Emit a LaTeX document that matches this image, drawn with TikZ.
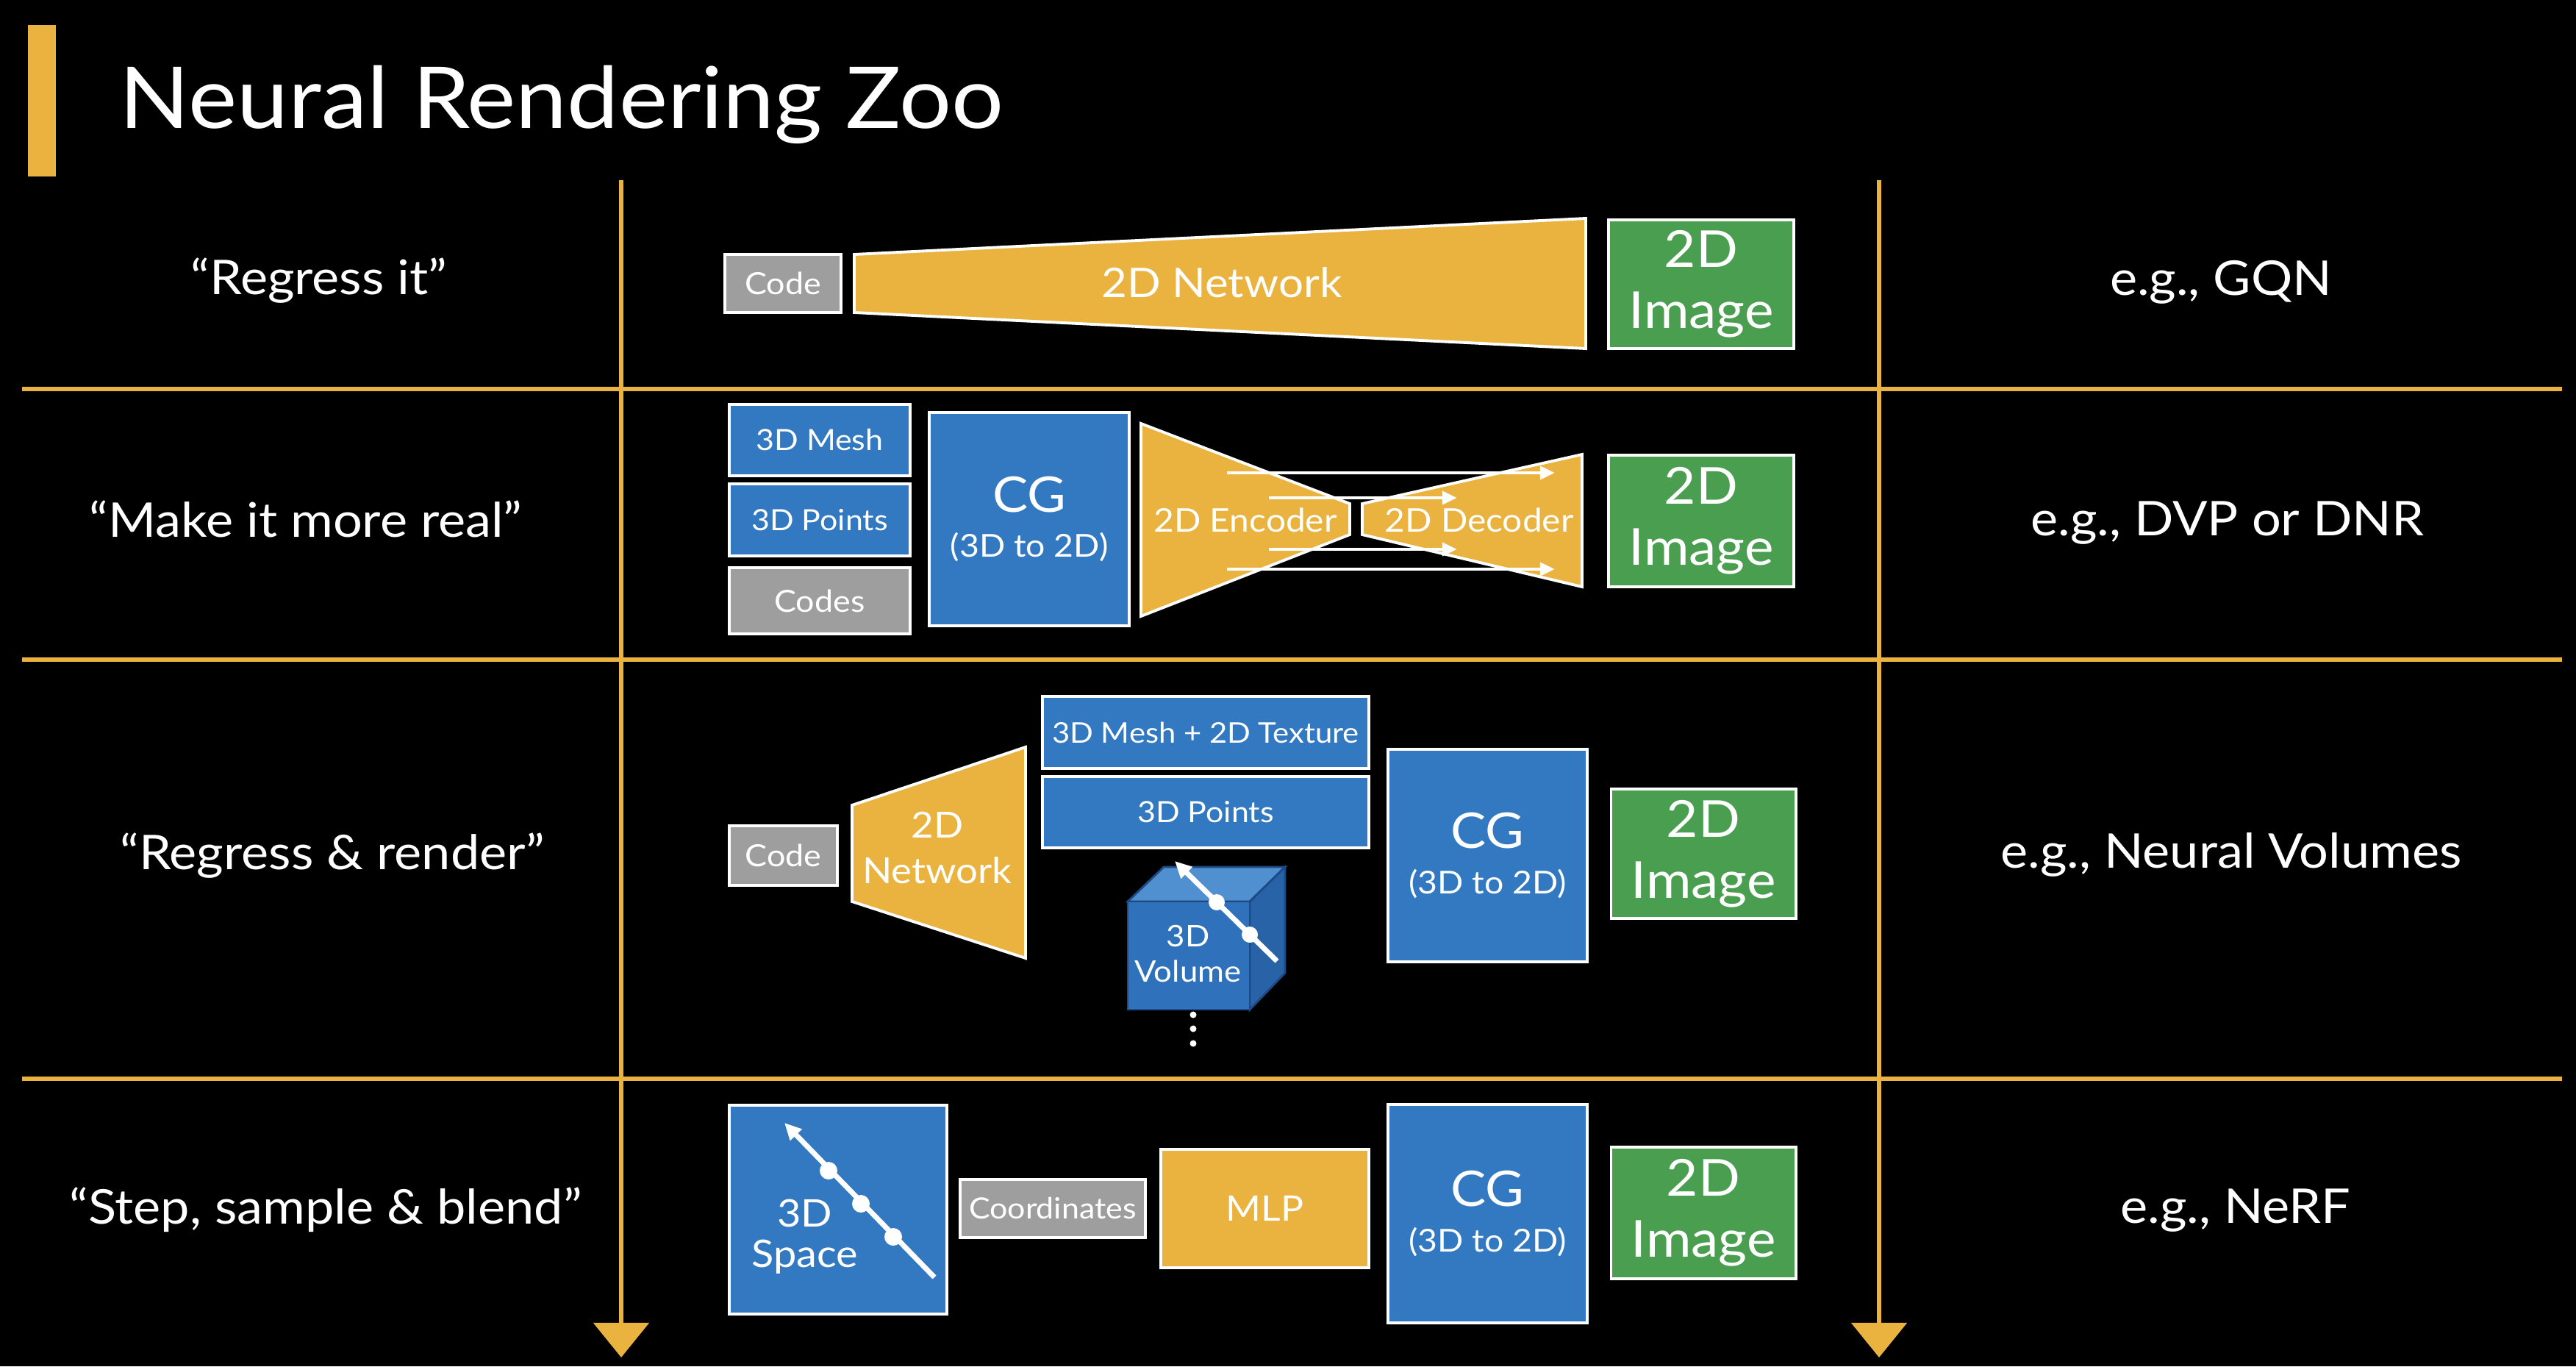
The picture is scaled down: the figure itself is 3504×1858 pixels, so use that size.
\documentclass[tikz,border=0pt]{standalone}
\usepackage{fontspec}
\setmainfont{Lato}[FakeStretch=1.08]
\usetikzlibrary{arrows.meta}
\definecolor{zorange}{HTML}{EAB23E}
\definecolor{zblue}{HTML}{3279C1}
\definecolor{zgreen}{HTML}{4A9E4F}
\definecolor{zgray}{HTML}{9E9E9E}
\definecolor{cubefront}{HTML}{2F72BB}
\definecolor{cubetop}{HTML}{508FD0}
\definecolor{cuberight}{HTML}{2863A7}
\definecolor{cubeline}{HTML}{1D4A85}
\begin{document}
\begin{tikzpicture}[x=0.01cm,y=-0.01cm,
  box/.style={draw=white, line width=1.1pt, text=white, inner sep=0pt, align=center},
  bluebox/.style={box, fill=zblue},
  graybox/.style={box, fill=zgray},
  greenbox/.style={box, fill=zgreen},
  orangebox/.style={box, fill=zorange},
  smalltxt/.style={font=\fontsize{11.3}{14}\selectfont},
  codetxt/.style={font=\fontsize{11.8}{14}\selectfont},
  bigtxt/.style={font=\fontsize{19.7}{23.5}\selectfont},
  cgtxt/.style={font=\fontsize{12.2}{17.4}\selectfont},
  rowlbl/.style={text=white, anchor=base, inner sep=0pt, font=\fontsize{18.5}{22}\selectfont},
  gridline/.style={draw=zorange, line width=1.55pt},
  vline/.style={draw=zorange, line width=1.7pt, -{Triangle[length=13.4pt, width=21.3pt]}},
  skip/.style={draw=white, line width=1.4pt, -{Triangle[length=5.7pt, width=5pt]}},
  ray/.style={draw=white, line width=2pt, -{Triangle[length=6.5pt, width=6pt]}},
  raydot/.style={fill=white, draw=none},
  trap/.style={fill=zorange, draw=white, line width=1.1pt},
]
\fill[black] (0,0) rectangle (3504,1858);
\useasboundingbox (0,0) rectangle (3504,1858);

% title
\fill[zorange] (38,34) rectangle (76,240);
\node[text=white, anchor=base west, inner sep=0pt, font=\fontsize{33}{40}\selectfont] (title) at (162,175) {Neural Rendering Zoo};

% grid
\coordinate (h1a) at (30,529);  \coordinate (h1b) at (3485,529);
\coordinate (h2a) at (30,897);  \coordinate (h2b) at (3485,897);
\coordinate (h3a) at (30,1467); \coordinate (h3b) at (3485,1467);
\draw[gridline] (h1a) -- (h1b);
\draw[gridline] (h2a) -- (h2b);
\draw[gridline] (h3a) -- (h3b);
\coordinate (v1a) at (845,245);  \coordinate (v1b) at (845,1846);
\coordinate (v2a) at (2556,245); \coordinate (v2b) at (2556,1846);
\draw[vline] (v1a) -- (v1b);
\draw[vline] (v2a) -- (v2b);

% row labels
\node[rowlbl] (r1) at (434,400) {“Regress it”};
\node[rowlbl] (r2) at (416,730) {“Make it more real”};
\node[rowlbl] (r3) at (452,1182) {“Regress \& render”};
\node[rowlbl] (r4) at (443,1664) {“Step, sample \& blend”};
\node[rowlbl] (e1) at (3021,402) {e.g., GQN};
\node[rowlbl] (e2) at (3030,728) {e.g., DVP or DNR};
\node[rowlbl] (e3) at (3035,1180) {e.g., Neural Volumes};
\node[rowlbl] (e4) at (3041,1663) {e.g., NeRF};

% ---- row 1
\node[graybox, codetxt, minimum width=1.58cm, minimum height=0.79cm] (code1) at (1065,385.5) {Code};
\draw[trap] (1162,346) -- (2157,297) -- (2157,474) -- (1162,425) -- cycle;
\node[text=white, font=\fontsize{15.8}{18}\selectfont] (net1) at (1662,384) {2D Network};
\node[greenbox, bigtxt, minimum width=2.52cm, minimum height=1.75cm] (img1) at (2314,386.5) {2D\\Image};

% ---- row 2
\node[bluebox, smalltxt, minimum width=2.46cm, minimum height=0.97cm] (mesh2) at (1115,598.5) {3D Mesh};
\node[bluebox, smalltxt, minimum width=2.46cm, minimum height=0.98cm] (pts2) at (1115,707) {3D Points};
\node[graybox, codetxt, minimum width=2.46cm, minimum height=0.90cm] (codes2) at (1115,817) {Codes};
\node[bluebox, cgtxt, minimum width=2.72cm, minimum height=2.90cm] (cg2) at (1400,706)
  {{\fontsize{19}{19}\selectfont CG}\\(3D to 2D)};
\draw[trap] (1552,576) -- (1836,685) -- (1836,727) -- (1552,838) -- cycle;
\draw[trap] (1853,685) -- (2152,618) -- (2152,798) -- (1853,727) -- cycle;
\coordinate (s1a) at (1669,643); \coordinate (s1b) at (2115,643);
\coordinate (s2a) at (1726,677); \coordinate (s2b) at (1982,677);
\coordinate (s3a) at (1726,747); \coordinate (s3b) at (1982,747);
\coordinate (s4a) at (1669,774); \coordinate (s4b) at (2115,774);
\draw[skip] (s1a) -- (s1b);
\draw[skip] (s2a) -- (s2b);
\draw[skip] (s3a) -- (s3b);
\draw[skip] (s4a) -- (s4b);
\node[text=white, anchor=base, inner sep=0pt, font=\fontsize{12.6}{15}\selectfont] (enc) at (1694,723) {2D Encoder};
\node[text=white, anchor=base, inner sep=0pt, font=\fontsize{12.6}{15}\selectfont] (dec) at (2012,723) {2D Decoder};
\node[greenbox, bigtxt, minimum width=2.52cm, minimum height=1.79cm] (img2) at (2314,708.5) {2D\\Image};

% ---- row 3
\node[graybox, codetxt, minimum width=1.47cm, minimum height=0.81cm] (code3) at (1065.5,1163.5) {Code};
\draw[trap] (1159,1095) -- (1395,1016) -- (1395,1303) -- (1159,1226) -- cycle;
\node[text=white, align=center, font=\fontsize{13.9}{17.6}\selectfont] (net3) at (1275,1153) {2D\\Network};
\node[bluebox, font=\fontsize{11}{14}\selectfont, minimum width=4.44cm, minimum height=0.98cm] (mt3) at (1640,996) {3D Mesh + 2D Texture};
\node[bluebox, smalltxt, minimum width=4.44cm, minimum height=0.97cm] (pts3) at (1640,1104.5) {3D Points};
% cube
\filldraw[fill=cubetop, draw=cubeline, line width=0.8pt] (1534,1226) -- (1583,1179) -- (1748,1179) -- (1700,1226) -- cycle;
\filldraw[fill=cuberight, draw=cubeline, line width=0.8pt] (1700,1226) -- (1748,1179) -- (1748,1323) -- (1700,1373) -- cycle;
\filldraw[fill=cubefront, draw=cubeline, line width=0.8pt] (1534,1226) rectangle (1700,1373);
\node[text=white, align=center, font=\fontsize{11.5}{13.4}\selectfont] (vol3) at (1616,1297) {3D\\Volume};
\coordinate (c3a) at (1737,1307); \coordinate (c3b) at (1598,1171);
\draw[ray] (c3a) -- (c3b);
\fill[raydot] (1655,1227) circle (11);
\fill[raydot] (1700,1271) circle (11);
\fill[white] (1623,1380) circle (4.5);
\fill[white] (1623,1399) circle (4.5);
\fill[white] (1623,1419) circle (4.5);
\node[bluebox, cgtxt, minimum width=2.71cm, minimum height=2.89cm] (cg3) at (2023.5,1163.5)
  {{\fontsize{19}{19}\selectfont CG}\\(3D to 2D)};
\node[greenbox, bigtxt, minimum width=2.51cm, minimum height=1.76cm] (img3) at (2317,1161) {2D\\Image};

% ---- row 4
\node[bluebox, minimum width=2.96cm, minimum height=2.84cm] (sp4) at (1140,1645) {};
\node[text=white, align=center, font=\fontsize{14.7}{15.6}\selectfont] (sp4t) at (1095,1682) {3D\\Space};
\coordinate (r4a) at (1271,1737); \coordinate (r4b) at (1067,1527);
\draw[ray] (r4a) -- (r4b);
\fill[raydot] (1127,1592) circle (12);
\fill[raydot] (1171,1637) circle (12);
\fill[raydot] (1215,1682) circle (12);
\node[graybox, smalltxt, minimum width=2.52cm, minimum height=0.79cm] (coord4) at (1432,1643.5) {Coordinates};
\node[orangebox, font=\fontsize{13.6}{16}\selectfont, minimum width=2.83cm, minimum height=1.61cm] (mlp4) at (1720.5,1643.5) {MLP};
\node[bluebox, cgtxt, minimum width=2.71cm, minimum height=2.97cm] (cg4) at (2023.5,1650.5)
  {{\fontsize{19}{19}\selectfont CG}\\(3D to 2D)};
\node[greenbox, bigtxt, minimum width=2.51cm, minimum height=1.79cm] (img4) at (2317,1649.5) {2D\\Image};
\end{tikzpicture}
\end{document}
